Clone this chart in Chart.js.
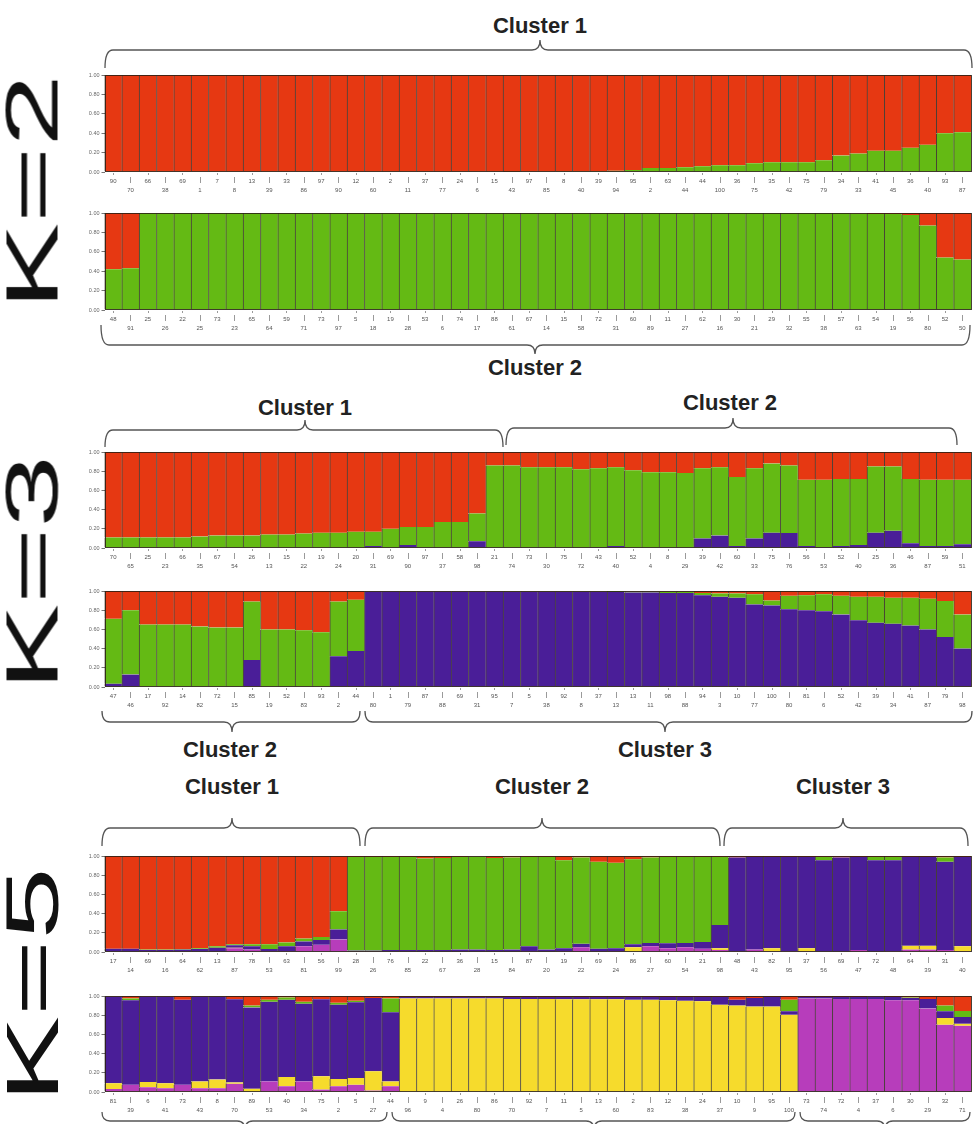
<!DOCTYPE html>
<html><head><meta charset="utf-8">
<script src="https://cdn.jsdelivr.net/npm/chart.js@4.4.1/dist/chart.umd.min.js"></script>
<style>
html,body{margin:0;padding:0;background:#fff;}
#root{position:relative;width:974px;height:1124px;overflow:hidden;font-family:'Liberation Sans',Arial,sans-serif;}
canvas.c{position:absolute;}
.klab{position:absolute;font-size:75px;line-height:1;color:#111;white-space:nowrap;transform:translate(-50%,-50%) rotate(-90deg) scaleX(1.74);}
.clab{position:absolute;font-weight:bold;font-size:22px;color:#222;white-space:nowrap;transform:translate(-50%,-50%);}
svg{position:absolute;left:0;top:0;}
</style></head><body><div id="root"></div>
<script>
// ---------------- DATA ----------------
// K=2, upper panel (Cluster 1)
const k2aLabels = ["90","70","66","38","69","1","7","8","13","39","33","86","97","90","12","60","2","11","37","77","24","6","15","43","97","85","8","40","39","94","95","2","63","44","44","100","36","75","35","42","75","79","34","33","41","45","36","40","93","87"];
const k2aGreen = [0,0,0,0,0,0,0,0,0,0, 0,0,0,0,0,0,0,0,0,0, 0,0,0,0.003,0.005,0.005,0.007,0.008,0.01,0.012, 0.02,0.04,0.04,0.05,0.06,0.07,0.07,0.09,0.10,0.10, 0.10,0.12,0.17,0.19,0.22,0.22,0.25,0.28,0.40,0.41];
const k2aRed = [1,1,1,1,1,1,1,1,1,1, 1,1,1,1,1,1,1,1,1,1, 1,1,1,0.997,0.995,0.995,0.993,0.992,0.99,0.988, 0.98,0.96,0.96,0.95,0.94,0.93,0.93,0.91,0.90,0.90, 0.90,0.88,0.83,0.81,0.78,0.78,0.75,0.72,0.60,0.59];

// K=2, lower panel (Cluster 2)
const k2bLabels = ["48","91","25","26","22","25","73","23","65","64","59","71","73","97","5","18","19","28","53","6","74","17","88","61","67","14","15","58","72","31","60","89","11","27","62","16","30","21","29","32","55","38","57","63","54","19","56","80","52","50"];
const k2bGreen = [0.42,0.43,1,1,1,1,1,1,1,1, 1,1,1,1,1,1,1,1,1,1, 1,1,1,1,1,1,1,1,1,1, 1,1,1,1,1,1,1,1,1,1, 1,1,1,0.995,0.99,0.99,0.98,0.87,0.54,0.52];
const k2bRed = [0.58,0.57,0,0,0,0,0,0,0,0, 0,0,0,0,0,0,0,0,0,0, 0,0,0,0,0,0,0,0,0,0, 0,0,0,0,0,0,0,0,0,0, 0,0,0,0.005,0.01,0.01,0.02,0.13,0.46,0.48];

// K=3, upper panel
const k3aLabels = ["70","65","25","23","66","35","67","54","26","13","15","22","19","24","20","31","69","90","97","37","58","98","21","74","73","30","75","72","43","40","52","4","8","29","39","42","60","33","75","76","56","53","52","40","25","36","46","87","59","51"];
const k3aPurple = [0,0,0,0,0,0,0,0,0,0, 0,0,0,0,0,0.02,0,0.03,0,0, 0,0.07,0,0,0,0,0,0,0.01,0.02, 0,0,0,0,0.10,0.13,0.02,0.10,0.16,0.155, 0.02,0.01,0.02,0.03,0.16,0.18,0.05,0.02,0.02,0.04];
const k3aGreen = [0.11,0.11,0.11,0.11,0.11,0.12,0.13,0.13,0.13,0.14, 0.14,0.15,0.16,0.16,0.17,0.15,0.20,0.19,0.22,0.27, 0.27,0.29,0.86,0.86,0.84,0.84,0.84,0.82,0.82,0.82, 0.81,0.79,0.79,0.78,0.73,0.71,0.72,0.73,0.72,0.705, 0.69,0.70,0.70,0.69,0.69,0.67,0.67,0.69,0.69,0.67];
const k3aRed = [0.89,0.89,0.89,0.89,0.89,0.88,0.87,0.87,0.87,0.86, 0.86,0.85,0.84,0.84,0.83,0.83,0.80,0.78,0.78,0.73, 0.73,0.64,0.14,0.14,0.16,0.16,0.16,0.18,0.17,0.16, 0.19,0.21,0.21,0.22,0.17,0.16,0.26,0.17,0.12,0.14, 0.29,0.29,0.28,0.28,0.15,0.15,0.28,0.29,0.29,0.29];

// K=3, lower panel
const k3bLabels = ["47","46","17","92","14","82","72","15","85","19","52","83","93","2","44","80","1","79","87","88","69","31","95","7","5","38","92","8","37","13","13","11","98","88","94","3","10","77","100","80","81","6","52","42","39","34","41","87","79","98"];
const k3bPurple = [0.035,0.13,0,0,0,0,0,0,0.28,0, 0,0,0,0.32,0.375,0.995,0.995,0.995,0.995,0.995, 0.995,0.995,0.995,0.99,0.99,0.99,0.99,0.99,0.99,0.99, 0.985,0.985,0.98,0.98,0.955,0.94,0.93,0.86,0.85,0.81, 0.80,0.79,0.755,0.695,0.67,0.66,0.64,0.60,0.52,0.40];
const k3bGreen = [0.675,0.67,0.65,0.65,0.65,0.63,0.62,0.62,0.61,0.60, 0.60,0.59,0.57,0.57,0.535,0.003,0.003,0.003,0.003,0.003, 0.003,0.003,0.003,0.005,0.005,0.005,0.005,0.005,0.005,0.01, 0.01,0.01,0.015,0.015,0.025,0.035,0.045,0.105,0.05,0.14, 0.155,0.175,0.195,0.245,0.27,0.27,0.29,0.32,0.375,0.355];
const k3bRed = [0.29,0.20,0.35,0.35,0.35,0.37,0.38,0.38,0.11,0.40, 0.40,0.41,0.43,0.11,0.09,0.002,0.002,0.002,0.002,0.002, 0.002,0.002,0.002,0.005,0.005,0.005,0.005,0.005,0.005,0, 0.005,0.005,0.005,0.005,0.02,0.025,0.025,0.035,0.10,0.05, 0.045,0.035,0.05,0.06,0.06,0.07,0.07,0.08,0.105,0.245];

// K=5, upper panel
const k5aLabels = ["17","14","69","16","64","62","13","87","78","53","63","81","56","99","28","26","76","85","22","67","36","28","15","84","87","20","19","22","69","24","86","27","60","54","21","98","48","43","82","95","37","56","69","47","72","48","64","39","31","40"];
const k5aMagenta = [0,0,0,0,0,0,0.005,0.04,0.025,0.01, 0.01,0.06,0.075,0.13,0,0,0,0,0,0, 0,0.005,0,0,0.01,0,0.01,0.05,0,0.01, 0,0.06,0.04,0.05,0.035,0.02,0.01,0.025,0.01,0.01, 0.01,0,0.005,0.02,0,0.01,0.025,0.025,0.02,0.01];
const k5aYellow = [0,0,0,0,0,0,0,0.005,0,0, 0,0,0,0,0,0,0,0,0,0, 0,0,0,0,0,0,0,0,0,0, 0.05,0,0,0,0,0.02,0,0,0.03,0, 0.03,0,0,0,0,0,0.04,0.04,0,0.05];
const k5aPurple = [0.035,0.035,0.02,0.02,0.025,0.03,0.04,0.025,0.035,0.02, 0.05,0.05,0.05,0.105,0.015,0.015,0.02,0.02,0.02,0.02, 0.025,0.02,0.02,0.025,0.05,0.025,0.03,0.035,0.035,0.03, 0.03,0.035,0.05,0.045,0.07,0.24,0.975,0.965,0.95,0.98, 0.95,0.955,0.98,0.97,0.955,0.945,0.925,0.925,0.92,0.93];
const k5aGreen = [0,0,0.005,0.005,0.005,0.01,0.015,0.01,0.02,0.05, 0.04,0.03,0.03,0.19,0.975,0.975,0.97,0.97,0.955,0.96, 0.965,0.97,0.96,0.96,0.93,0.965,0.915,0.90,0.905,0.89, 0.885,0.89,0.90,0.895,0.885,0.71,0,0,0,0, 0,0.035,0,0,0.035,0.035,0,0,0.045,0];
const k5aRed = [0.965,0.965,0.975,0.975,0.97,0.96,0.94,0.92,0.92,0.92, 0.90,0.86,0.845,0.575,0.01,0.01,0.01,0.01,0.025,0.02, 0.01,0.005,0.02,0.015,0.01,0.01,0.045,0.015,0.06,0.07, 0.035,0.015,0.01,0.01,0.01,0.01,0.015,0.01,0.01,0.01, 0.01,0.01,0.015,0.01,0.01,0.01,0.01,0.01,0.015,0.01];

// K=5, lower panel
const k5bLabels = ["81","39","6","41","73","43","8","70","89","53","40","34","75","2","5","27","44","96","9","4","26","80","86","70","92","7","11","5","13","60","2","83","12","38","24","37","10","9","95","100","73","74","72","4","37","6","30","29","32","71"];
const k5bMagenta = [0.03,0.075,0.05,0.04,0.075,0.04,0.04,0.085,0,0.11, 0.06,0.11,0.025,0.06,0.075,0.015,0.06,0,0,0, 0,0,0,0,0,0,0,0,0.005,0.005, 0.005,0.005,0,0.005,0,0,0.005,0,0,0.01, 0.975,0.975,0.97,0.97,0.97,0.955,0.955,0.87,0.70,0.69];
const k5bYellow = [0.06,0,0.055,0.05,0,0.07,0.09,0.015,0.035,0, 0.095,0,0.14,0.075,0.07,0.20,0.05,0.975,0.975,0.975, 0.975,0.975,0.975,0.97,0.97,0.97,0.965,0.965,0.96,0.96, 0.955,0.955,0.955,0.945,0.945,0.91,0.895,0.89,0.89,0.795, 0,0,0,0,0,0,0,0,0.07,0.02];
const k5bPurple = [0.905,0.88,0.89,0.905,0.885,0.885,0.865,0.865,0.845,0.83, 0.805,0.81,0.80,0.775,0.79,0.765,0.72,0.015,0.015,0.015, 0.015,0.015,0.015,0.02,0.02,0.02,0.025,0.025,0.025,0.025, 0.03,0.03,0.035,0.04,0.045,0.08,0.06,0.09,0.10,0.035, 0.015,0.015,0.02,0.02,0.025,0.035,0.025,0.10,0.07,0.07];
const k5bGreen = [0,0.02,0,0,0,0,0,0,0.02,0.02, 0.025,0.02,0,0.02,0.015,0,0.145,0,0,0, 0,0,0,0,0,0,0,0,0,0, 0,0,0,0,0,0,0,0,0,0.12, 0,0,0,0,0,0,0.005,0,0.06,0.065];
const k5bRed = [0.005,0.025,0.005,0.005,0.04,0.005,0.005,0.035,0.10,0.04, 0.015,0.06,0.035,0.07,0.05,0.02,0.025,0.01,0.01,0.01, 0.01,0.01,0.01,0.01,0.01,0.01,0.01,0.01,0.01,0.01, 0.01,0.01,0.01,0.01,0.01,0.01,0.04,0.02,0.01,0.04, 0.01,0.01,0.01,0.01,0.005,0.01,0.015,0.03,0.10,0.155];

const yTickValues = [0, 0.2, 0.4, 0.6, 0.8, 1.0];

// ---------------- STYLE ----------------
const COL = {red:'#E63812', green:'#64BA14', purple:'#4A1E98', yellow:'#F6DB2C', magenta:'#B73DBB'};
const root = document.getElementById('root');

const framePlugin = {id:'frame', afterDatasetsDraw(chart){
  const a = chart.chartArea, c = chart.ctx; c.save();
  c.strokeStyle = 'rgba(40,30,20,0.85)'; c.lineWidth = 1;
  c.strokeRect(Math.round(a.left)+0.5, Math.round(a.top)+0.5, Math.round(a.right-a.left)-1, Math.round(a.bottom-a.top)-1);
  c.restore();
}};
const xTickPlugin = {id:'xt', afterDraw(chart){
  const xs = chart.scales.x, a = chart.chartArea, c = chart.ctx; c.save();
  c.strokeStyle = '#9a9a9a'; c.lineWidth = 1;
  const n = chart.data.labels.length;
  for (let i = 0; i < n; i++) {
    const x = Math.round(xs.getPixelForValue(i)) + 0.5;
    c.beginPath();
    if (i % 2 === 1) { c.moveTo(x, a.bottom + 5); c.lineTo(x, a.bottom + 11); }
    else { c.moveTo(x, a.bottom + 1); c.lineTo(x, a.bottom + 3); }
    c.stroke();
  }
  c.restore();
}};

function makePanel(plotTop, plotBottom, labels, series){
  const padTop = 8, axisH = 24, W = 914;
  const H = padTop + (plotBottom - plotTop) + axisH;
  const cv = document.createElement('canvas');
  cv.width = W; cv.height = H; cv.className = 'c';
  cv.style.left = '60px'; cv.style.top = (plotTop - padTop) + 'px';
  cv.style.width = W + 'px'; cv.style.height = H + 'px';
  root.appendChild(cv);
  new Chart(cv, {
    type: 'bar',
    data: {
      labels: labels.map((s, i) => i % 2 === 0 ? [s] : ['', s]),
      datasets: series.map(s => ({
        data: s.data, backgroundColor: s.color,
        borderColor: 'rgba(30,20,10,0.78)',
        borderWidth: {left: 1, right: 0, top: 0, bottom: 0},
        borderSkipped: false,
        barPercentage: 1, categoryPercentage: 1
      }))
    },
    options: {
      responsive: false, animation: false, devicePixelRatio: 1,
      layout: {padding: {top: padTop, right: 3, left: 0, bottom: 0}},
      plugins: {legend: {display: false}, tooltip: {enabled: false}},
      scales: {
        x: {stacked: true,
            grid: {display: false, drawTicks: false}, border: {display: false},
            ticks: {autoSkip: false, maxRotation: 0, minRotation: 0, padding: 5.5,
                    font: {family: "'Liberation Sans', Arial, sans-serif", size: 6, lineHeight: 1.4}, color: '#555'},
            afterFit(s){ s.height = axisH; }},
        y: {stacked: true, min: 0, max: 1,
            afterBuildTicks(s){ s.ticks = yTickValues.map(v => ({value: v})); },
            ticks: {callback: v => Number(v).toFixed(2), padding: 2,
                    font: {family: "'Liberation Sans', Arial, sans-serif", size: 5.5}, color: '#666'},
            grid: {display: true, drawOnChartArea: false, drawTicks: true, tickLength: 3, color: '#777'},
            border: {display: false},
            afterFit(s){ s.width = 44.5; }}
      }
    },
    plugins: [framePlugin, xTickPlugin]
  });
}

makePanel(75, 172, k2aLabels, [{data:k2aGreen,color:COL.green},{data:k2aRed,color:COL.red}]);
makePanel(213, 310, k2bLabels, [{data:k2bGreen,color:COL.green},{data:k2bRed,color:COL.red}]);
makePanel(452, 548, k3aLabels, [{data:k3aPurple,color:COL.purple},{data:k3aGreen,color:COL.green},{data:k3aRed,color:COL.red}]);
makePanel(591, 687, k3bLabels, [{data:k3bPurple,color:COL.purple},{data:k3bGreen,color:COL.green},{data:k3bRed,color:COL.red}]);
makePanel(856, 952, k5aLabels, [{data:k5aMagenta,color:COL.magenta},{data:k5aYellow,color:COL.yellow},{data:k5aPurple,color:COL.purple},{data:k5aGreen,color:COL.green},{data:k5aRed,color:COL.red}]);
makePanel(996, 1092, k5bLabels, [{data:k5bMagenta,color:COL.magenta},{data:k5bYellow,color:COL.yellow},{data:k5bPurple,color:COL.purple},{data:k5bGreen,color:COL.green},{data:k5bRed,color:COL.red}]);

// ---------------- ANNOTATIONS ----------------
function addText(cls, txt, x, y){
  const d = document.createElement('div'); d.className = cls; d.textContent = txt;
  d.style.left = x + 'px'; d.style.top = y + 'px'; root.appendChild(d);
}
addText('klab', 'K=2', 32, 192);
addText('klab', 'K=3', 32, 573);
addText('klab', 'K=5', 32, 985);
addText('clab', 'Cluster 1', 540, 26);
addText('clab', 'Cluster 2', 535, 368);
addText('clab', 'Cluster 1', 305, 408);
addText('clab', 'Cluster 2', 730, 403);
addText('clab', 'Cluster 2', 230, 750);
addText('clab', 'Cluster 3', 665, 750);
addText('clab', 'Cluster 1', 232, 787);
addText('clab', 'Cluster 2', 542, 787);
addText('clab', 'Cluster 3', 843, 787);

const braces = [
  [105, 972, 540, 68, 50, 40],
  [101, 970, 535, 325, 345, 354],
  [105, 503, 305, 447, 430, 420],
  [506, 957, 733, 445, 428, 418],
  [102, 360, 232, 711, 722, 732],
  [365, 972, 665, 711, 722, 732],
  [102, 360, 232, 846, 828, 818],
  [365, 720, 542, 846, 828, 818],
  [724, 968, 843, 846, 828, 818],
  [102, 387, 245, 1112, 1121, 1130],
  [392, 795, 594, 1112, 1121, 1130],
  [800, 970, 885, 1112, 1121, 1130]
];
const NS = 'http://www.w3.org/2000/svg';
const svg = document.createElementNS(NS, 'svg');
svg.setAttribute('width', 974); svg.setAttribute('height', 1124);
braces.forEach(([x1, x2, xm, yE, yL, yT]) => {
  const r = 8;
  const d = `M${x1},${yE} Q${x1},${yL} ${x1+r},${yL} L${xm-r},${yL} Q${xm},${yL} ${xm},${yT} Q${xm},${yL} ${xm+r},${yL} L${x2-r},${yL} Q${x2},${yL} ${x2},${yE}`;
  const p = document.createElementNS(NS, 'path');
  p.setAttribute('d', d); p.setAttribute('fill', 'none');
  p.setAttribute('stroke', '#555'); p.setAttribute('stroke-width', '1.3');
  svg.appendChild(p);
});
root.appendChild(svg);
</script>
</body></html>
